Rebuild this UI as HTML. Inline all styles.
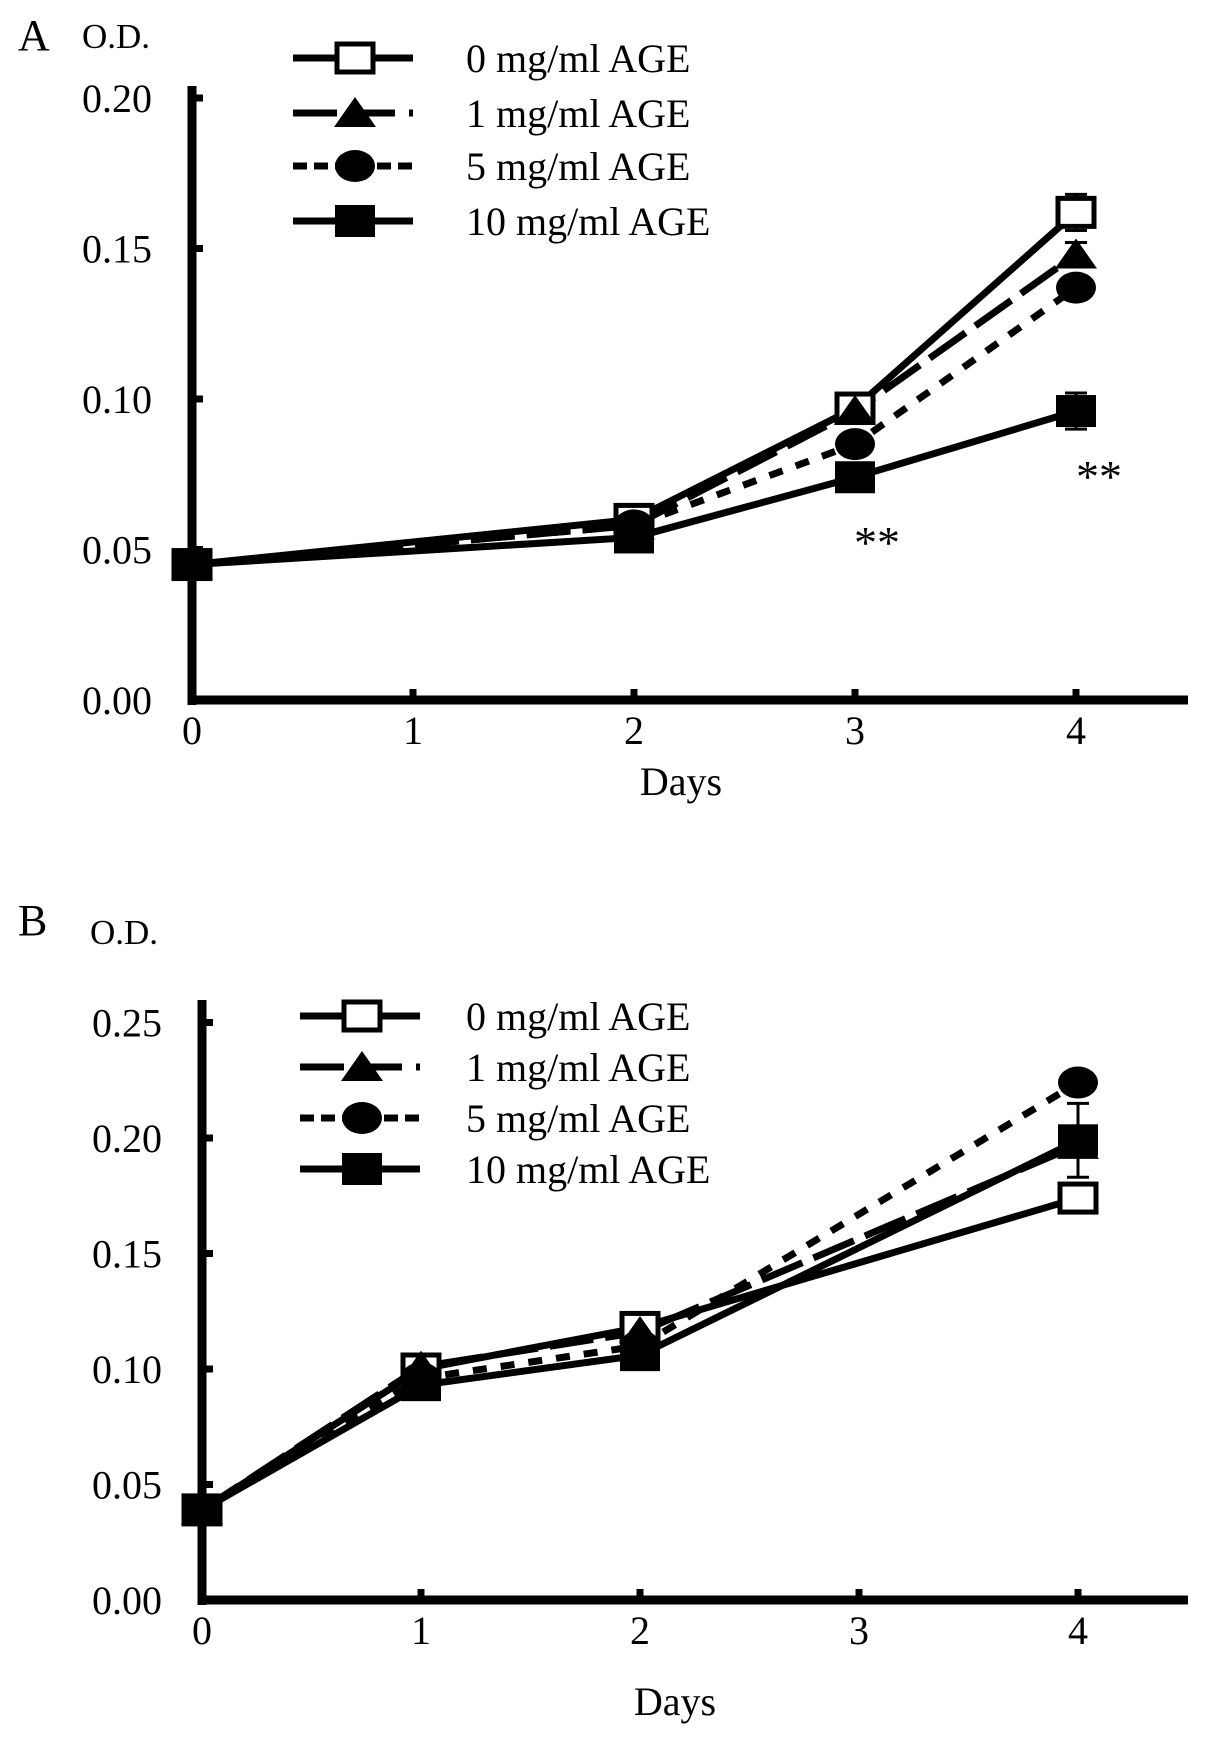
<!DOCTYPE html>
<html><head><meta charset="utf-8"><style>
html,body{margin:0;padding:0;background:#fff;}
svg{display:block;font-family:"Liberation Serif",serif;}
</style></head><body>
<svg id="fig" width="1205" height="1743" viewBox="0 0 1205 1743" xmlns="http://www.w3.org/2000/svg"></svg>
<script>
const days = [0,1,2,3,4];
const seriesNames = ["0 mg/ml AGE","1 mg/ml AGE","5 mg/ml AGE","10 mg/ml AGE"];
// Panel A values (null = no measurement)
const a0 = [0.045,null,0.060,0.097,0.162];
const a1 = [0.045,null,0.058,0.096,0.148];
const a5 = [0.045,null,0.058,0.085,0.137];
const a10 = [0.045,null,0.054,0.074,0.096];
const aErr4 = [0.006,0.004,0.004,0.006];
const aTicks = ["0.00","0.05","0.10","0.15","0.20"];
// Panel B values
const b0 = [0.039,0.100,0.118,null,0.174];
const b1 = [0.039,0.101,0.116,null,0.197];
const b5 = [0.039,0.096,0.110,null,0.224];
const b10 = [0.039,0.093,0.106,null,0.199];
const bErr4 = [0.002,0.004,0.004,0.016];
const bTicks = ["0.00","0.05","0.10","0.15","0.20","0.25"];
const xTicks = ["0","1","2","3","4"];

const NS="http://www.w3.org/2000/svg";
const svg=document.getElementById('fig');
function mk(tag,attrs,parent){const e=document.createElementNS(NS,tag);for(const k in attrs)e.setAttribute(k,attrs[k]);(parent||svg).appendChild(e);return e;}
const dashes=["none","44 12","14 14","none"];

function marker(g,k,cx,cy){
  let m;
  if(k===0){m=mk('rect',{x:cx-18,y:cy-14,width:36,height:28,fill:'#fff',stroke:'#000','stroke-width':5},g);}
  else if(k===1){m=mk('polygon',{points:`${cx},${cy-16} ${cx+21},${cy+14} ${cx-21},${cy+14}`,fill:'#000'},g);}
  else if(k===2){m=mk('ellipse',{cx:cx,cy:cy,rx:20,ry:16,fill:'#000'},g);}
  else {m=mk('rect',{x:cx-20,y:cy-16,width:40,height:32,fill:'#000'},g);}
  return m;
}

function panel(p){
  const g=mk('g',{});
  
  
  const X=d=>p.x0+d*p.dx;
  const Y=v=>p.y0-v/0.05*p.dy;
  let t=mk('text',{x:p.lx,y:p.ly,'font-size':44},g);t.textContent=p.letter;
  
  t=mk('text',{x:p.odx,y:p.ody,'font-size':35},g);t.textContent="O.D.";
  
  let ax=mk('line',{x1:p.x0,y1:p.top,x2:p.x0,y2:p.y0+5,stroke:'#000','stroke-width':9},g);
  
  ax=mk('line',{x1:p.x0-4,y1:p.y0,x2:1188,y2:p.y0,stroke:'#000','stroke-width':9},g);
  
  p.ticks.forEach((lab,i)=>{
    const y=Y(i*0.05);
    if(i>0){const tk=mk('line',{x1:p.x0,y1:y,x2:p.x0+11,y2:y,stroke:'#000','stroke-width':7},g);
      }
    const tl=mk('text',{x:p.x0-40,y:y+14,'font-size':40,'text-anchor':'end'},g);tl.textContent=lab;
    
  });
  xTicks.forEach((lab,i)=>{
    const x=X(days[i]);
    if(i>0){const tk=mk('line',{x1:x,y1:p.y0,x2:x,y2:p.y0-11,stroke:'#000','stroke-width':7},g);
      }
    const tl=mk('text',{x:x,y:p.y0+44,'font-size':40,'text-anchor':'middle'},g);tl.textContent=lab;
    
  });
  t=mk('text',{x:p.daysX,y:p.daysY,'font-size':40,'text-anchor':'middle'},g);t.textContent="Days";
  
  p.series.forEach((s,k)=>{
    const v=s[4],e=p.err[k],x=X(4);
    const eb=mk('path',{d:`M${x},${Y(v-e)}V${Y(v+e)}M${x-11},${Y(v-e)}H${x+11}M${x-11},${Y(v+e)}H${x+11}`,stroke:'#000','stroke-width':3,fill:'none'},g);
    
  });
  p.series.forEach((s,k)=>{
    const pts=[];s.forEach((v,i)=>{if(v!==null)pts.push(X(days[i])+','+Y(v));});
    const pl=mk('polyline',{points:pts.join(' '),fill:'none',stroke:'#000','stroke-width':7,'stroke-dasharray':dashes[k]},g);
    
  });
  [0,1,2,3].forEach(k=>{
    p.series[k].forEach((v,i)=>{if(v===null)return;
      const m=marker(g,k,X(days[i]),Y(v));
      });
  });
  seriesNames.forEach((n,k)=>{
    const y=p.legY[k];
    const lg=mk('g',{},g);
    
    mk('line',{x1:p.legX,y1:y,x2:p.legX+120,y2:y,stroke:'#000','stroke-width':7,'stroke-dasharray':k===1?'44 14':(k===2?'14 7':'none')},lg);
    marker(lg,k,p.legX+62,y);
    const tx=mk('text',{x:466,y:y+14,'font-size':40},lg);tx.textContent=n;
  });
  (p.stars||[]).forEach(s=>{const st=mk('text',{x:s[0],y:s[1],'font-size':46,'text-anchor':'middle'},g);st.textContent="**";
    });
}

panel({name:'panel-a',letter:'A',lx:18,ly:50,odx:82,ody:48,x0:192,dx:221,y0:700,dy:150.5,top:86,
  ticks:aTicks,series:[a0,a1,a5,a10],err:aErr4,daysX:681,daysY:795,
  legX:293,legY:[58,113,166,221],stars:[[877,558],[1099,492]]});
panel({name:'panel-b',letter:'B',lx:18,ly:935,odx:90,ody:944,x0:202,dx:219,y0:1600,dy:115.5,top:1000,
  ticks:bTicks,series:[b0,b1,b5,b10],err:bErr4,daysX:675,daysY:1715,
  legX:300,legY:[1016,1067,1118,1169]});
</script>
</body></html>
